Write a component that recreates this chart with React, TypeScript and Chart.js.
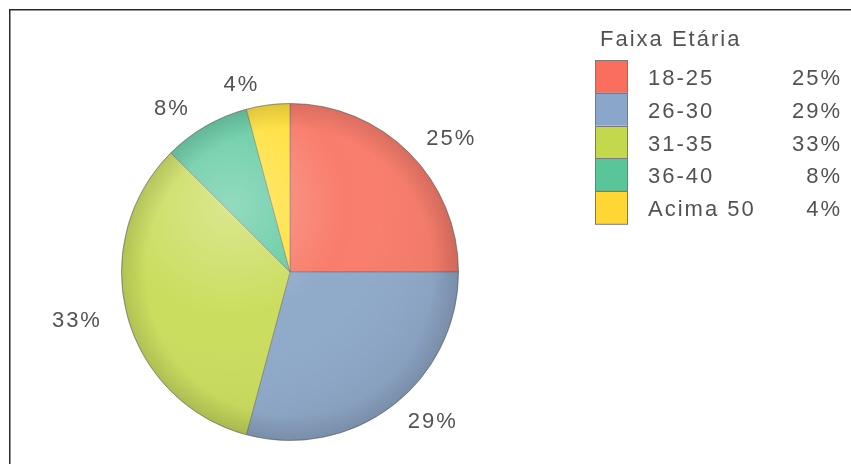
import React, { useEffect, useRef } from 'react';
import { Chart, registerables } from 'chart.js';

Chart.register(...registerables);

// ---- data ----
const categories = ['18-25', '26-30', '31-35', '36-40', 'Acima 50'];
const counts = [6, 7, 8, 2, 1];
const percentLabels = ['25%', '29%', '33%', '8%', '4%'];
const legendTitle = 'Faixa Etária';

const sliceColors = ['#F97D6C', '#90AACA', '#CBDD5E', '#64CBA3', '#FFE03C'];
const legendColors = ['#FA6E5E', '#8BA6CB', '#C3D84C', '#5BC59A', '#FFD633'];

const FONT = '22px "Liberation Sans", Arial, sans-serif';
const TEXT = '#525252';

export default function App() {
  const ref = useRef<HTMLCanvasElement>(null);

  useEffect(() => {
    const canvas = ref.current!;

    const bgPlugin = {
      id: 'bg',
      beforeDraw(chart: any) {
        const ctx = chart.ctx;
        ctx.save();
        ctx.fillStyle = '#ffffff';
        ctx.fillRect(0, 0, chart.width, chart.height);
        ctx.restore();
      },
    };

    const shadePlugin = {
      id: 'shade',
      afterDatasetsDraw(chart: any) {
        const ctx = chart.ctx;
        const arc = chart.getDatasetMeta(0).data[0];
        const { x, y, outerRadius: r } = arc.getProps(['x', 'y', 'outerRadius'], true);
        ctx.save();
        ctx.beginPath();
        ctx.arc(x, y, r, 0, Math.PI * 2);
        ctx.clip();
        const hx = x - 0.35 * r;
        const hy = y - 0.4 * r;
        const g = ctx.createRadialGradient(hx, hy, 0, hx, hy, 1.35 * r);
        g.addColorStop(0, 'rgba(255,255,255,0.30)');
        g.addColorStop(0.5, 'rgba(255,255,255,0.0)');
        g.addColorStop(1, 'rgba(0,0,0,0.05)');
        ctx.fillStyle = g;
        ctx.fillRect(x - r, y - r, 2 * r, 2 * r);
        const g2 = ctx.createRadialGradient(x, y, 0.85 * r, x, y, r);
        g2.addColorStop(0, 'rgba(0,0,0,0)');
        g2.addColorStop(1, 'rgba(0,0,0,0.12)');
        ctx.fillStyle = g2;
        ctx.fillRect(x - r, y - r, 2 * r, 2 * r);
        ctx.restore();
        ctx.save();
        ctx.beginPath();
        ctx.arc(x, y, r, 0, Math.PI * 2);
        ctx.strokeStyle = 'rgba(90,90,90,0.3)';
        ctx.lineWidth = 1;
        ctx.stroke();
        ctx.restore();
      },
    };

    const overlayPlugin = {
      id: 'overlay',
      afterDraw(chart: any) {
        const ctx = chart.ctx;
        ctx.save();
        ctx.font = FONT;
        (ctx as any).letterSpacing = '2px';
        ctx.fillStyle = TEXT;

        // slice labels
        const meta = chart.getDatasetMeta(0);
        meta.data.forEach((el: any, i: number) => {
          const { x, y, startAngle, endAngle, outerRadius } = el.getProps(
            ['x', 'y', 'startAngle', 'endAngle', 'outerRadius'],
            true
          );
          const mid = (startAngle + endAngle) / 2;
          const d = outerRadius + 20;
          const right = Math.cos(mid) >= 0;
          const px = x + d * Math.cos(mid) + (right ? 3 : -6);
          const py = y + d * Math.sin(mid);
          ctx.textAlign = right ? 'left' : 'right';
          ctx.textBaseline = 'middle';
          ctx.fillText(percentLabels[i], px, py);
        });

        // legend
        ctx.textAlign = 'left';
        ctx.textBaseline = 'alphabetic';
        ctx.fillText(legendTitle, 600, 46);
        const boxX = 595;
        const boxW = 33;
        const top = 60;
        const rowH = 32.8;
        categories.forEach((c, i) => {
          const by = top + i * rowH;
          ctx.fillStyle = legendColors[i];
          ctx.fillRect(boxX, by, boxW, rowH);
          ctx.strokeStyle = '#7a7a7a';
          ctx.lineWidth = 1;
          ctx.strokeRect(boxX + 0.5, Math.round(by) + 0.5, boxW - 1, rowH);
          ctx.fillStyle = TEXT;
          ctx.textAlign = 'left';
          ctx.fillText(c, 648, by + rowH / 2 + 8.5);
          ctx.textAlign = 'right';
          ctx.fillText(percentLabels[i], 842, by + rowH / 2 + 8.5);
        });

        // frame (top and left edges)
        ctx.fillStyle = '#2a2a2a';
        ctx.fillRect(9, 9, chart.width - 9, 1.5);
        ctx.fillRect(9, 9, 1.5, chart.height - 9);
        ctx.restore();
      },
    };

    const chart = new Chart(canvas, {
      type: 'pie',
      data: {
        labels: categories,
        datasets: [
          {
            data: counts,
            backgroundColor: sliceColors,
            borderColor: 'rgba(110,110,110,0.5)',
            borderWidth: 1,
          },
        ],
      },
      options: {
        responsive: false,
        animation: false,
        layout: { padding: { left: 121, right: 392, top: 103, bottom: 23 } },
        plugins: {
          legend: { display: false },
          tooltip: { enabled: false },
          title: { display: false },
        },
      },
      plugins: [bgPlugin, shadePlugin, overlayPlugin],
    });

    return () => chart.destroy();
  }, []);

  return (
    <div style={{ position: 'fixed', left: 0, top: 0, width: 851, height: 464 }}>
      <canvas ref={ref} width={851} height={464} style={{ width: 851, height: 464, display: 'block' }} />
    </div>
  );
}
